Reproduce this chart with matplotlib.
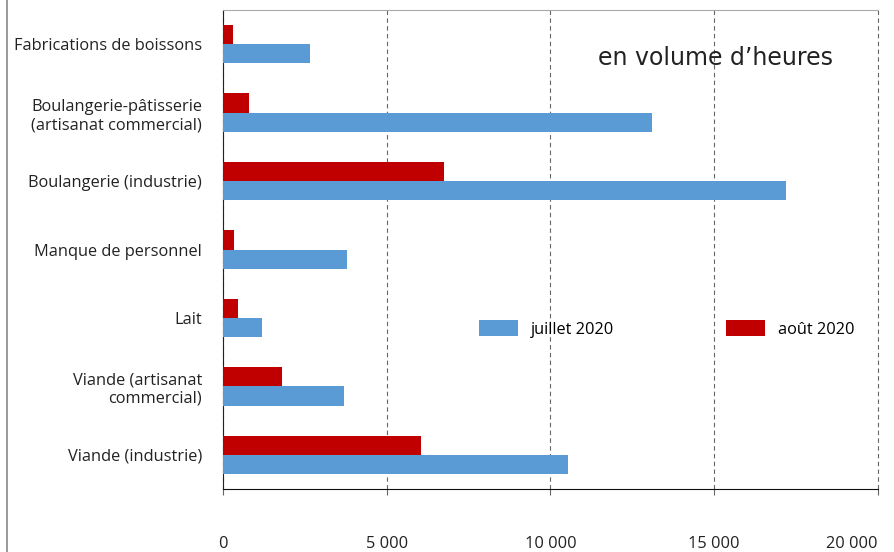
import matplotlib.pyplot as plt
import numpy as np
from matplotlib.lines import Line2D

categories = ['Fabrications de boissons',
              'Boulangerie-pâtisserie\n(artisanat commercial)',
              'Boulangerie (industrie)',
              'Manque de personnel',
              'Lait',
              'Viande (artisanat\ncommercial)',
              'Viande (industrie)']
juillet = [2650, 13100, 17200, 3800, 1200, 3700, 10550]
aout = [300, 800, 6750, 350, 450, 1800, 6050]
xticks = [0, 5000, 10000, 15000, 20000]
xtick_labels = ['0', '5 000', '10 000', '15 000', '20 000']

plt.rcParams['font.family'] = ['Open Sans', 'DejaVu Sans']

fig = plt.figure(figsize=(8.95, 5.52), dpi=100)
ax = fig.add_axes([0.249, 0.114, 0.732, 0.868])

y = np.arange(len(categories))
h = 0.28
ax.barh(y + h / 2, juillet, height=h, color='#5B9BD5', label='juillet 2020', zorder=3)
ax.barh(y - h / 2, aout, height=h, color='#C00000', label='août 2020', zorder=3)

ax.set_ylim(len(categories) - 0.5, -0.5)
ax.set_xlim(0, 20000)
ax.set_yticks(y)
ax.set_yticklabels(categories, fontsize=11.8, color='#222222')
ax.set_xticks(xticks)
ax.set_xticklabels(xtick_labels, fontsize=11.8, color='#222222')
ax.get_xticklabels()[-1].set_ha('right')
ax.tick_params(axis='y', length=0, pad=15)
ax.tick_params(axis='x', length=4, color='#666666', pad=30)

ax.grid(axis='x', linestyle='--', color='#666666', linewidth=0.8, dashes=(4, 3), zorder=0)
for gl in ax.get_xgridlines():
    gl.set_clip_on(False)
ax.spines['right'].set_visible(False)
ax.spines['top'].set_color('#aaaaaa')
ax.spines['left'].set_color('#222222')
ax.spines['bottom'].set_color('#111111')

ax.text(0.5725, 0.90, 'en volume d\u2019heures', transform=ax.transAxes,
        fontsize=17, family='DejaVu Sans', color='#222222', va='center')

leg = ax.legend(loc='center left', bbox_to_anchor=(0.368, 0.335), ncol=2,
                frameon=False, fontsize=11.8, handlelength=2.4, handleheight=1.2,
                columnspacing=6.8, handletextpad=0.8)

fig.add_artist(Line2D([0.008, 0.008], [0, 1], color='#888888', linewidth=1.2,
                      transform=fig.transFigure))

fig.savefig('out.png', dpi=100)
